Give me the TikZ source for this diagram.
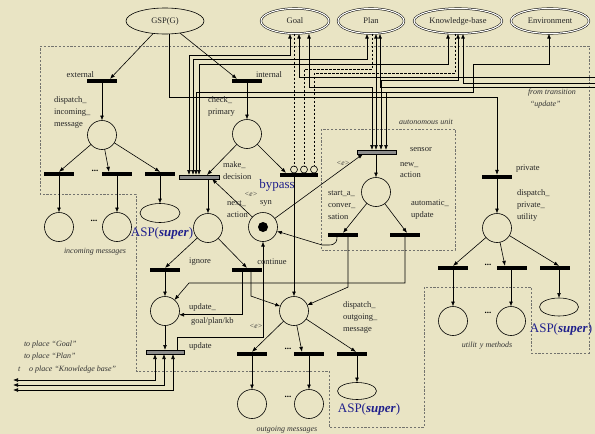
\documentclass[tikz,border=0pt]{standalone}
\usepackage{fontspec}
\setmainfont{Liberation Serif}
\usetikzlibrary{arrows.meta,shapes.geometric}
\definecolor{bgc}{RGB}{233,228,196}
\definecolor{aspblue}{RGB}{32,32,140}
\definecolor{dashgray}{RGB}{115,115,110}
\definecolor{bargray}{RGB}{140,140,140}
\begin{document}
\begin{tikzpicture}[x=1pt,y=-1pt,
  every node/.style={inner sep=0pt, outer sep=0pt},
  tb/.style={rectangle, fill=black, minimum width=30pt, minimum height=4.2pt},
  gb/.style={rectangle, draw=black, line width=0.5pt, fill=bargray, minimum width=38pt, minimum height=4pt},
  pl/.style={circle, draw, line width=0.6pt, minimum size=29pt},
  asel/.style={ellipse, draw, line width=0.6pt, minimum width=39pt, minimum height=18pt},
  topel/.style={ellipse, draw, line width=0.6pt, minimum height=26pt},
  dtop/.style={ellipse, draw, line width=0.5pt, double, double distance=1.1pt, minimum height=25pt},
  bc/.style={circle, draw, line width=0.6pt, minimum size=7pt},
  lab/.style={font=\fontsize{8.5}{11.8}\selectfont, align=left, text=black!85},
  ilab/.style={font=\fontsize{8}{11.5}\selectfont\itshape, align=left, text=black!80},
  asp/.style={font=\fontsize{13}{15}\selectfont, text=aspblue},
  dotl/.style={font=\bfseries\fontsize{9}{9}\selectfont},
  bnd/.style={draw=dashgray, line width=0.45pt, dash pattern=on 2.2pt off 1.6pt},
  wire/.style={line width=0.6pt},
  arw/.style={wire, -{Latex[length=5pt,width=3.8pt]}},
  darw/.style={wire, {Latex[length=5pt,width=3.8pt]}-{Latex[length=5pt,width=3.8pt]}},
  dwire/.style={line width=0.6pt, dash pattern=on 2.5pt off 1.5pt},
]
\fill[bgc] (0,0) rectangle (595,434);
\useasboundingbox (0,0) rectangle (595,434);

% boundaries
\draw[bnd] (40,46) -- (589,46) -- (589,353) -- (531,353) -- (531,287) -- (424,287) -- (424,427) -- (329,427) -- (329,371) -- (136,371) -- (136,194) -- (40,194) -- cycle;
\draw[bnd] (321,129) rectangle (455,250);

% top places
\node[topel, minimum width=78pt] (gsp) at (165,21) {};
\node[lab] at (gsp) {GSP(G)};
\node[dtop, minimum width=68pt] (goal) at (295,21) {};
\node[lab] at (goal) {Goal};
\node[dtop, minimum width=66pt] (plan) at (371,21) {};
\node[lab] at (plan) {Plan};
\node[dtop, minimum width=88pt] (kb) at (458,21) {};
\node[lab] at (kb) {Knowledge-base};
\node[dtop, minimum width=78pt] (env) at (550,21) {};
\node[lab] at (env) {Environment};

% transitions
\node[tb] (ext) at (102,81) {};
\node[tb] (int) at (247,81) {};
\node[tb] (i1) at (59,174) {};
\node[tb] (i2) at (117,174) {};
\node[tb] (i3) at (160,174) {};
\node[gb, minimum width=40pt] (md) at (199,177) {};
\node[tb, minimum width=38pt] (byp) at (299,175) {};
\node[gb, minimum width=39pt] (sens) at (377,152) {};
\node[tb] (sac) at (343,235) {};
\node[tb] (aut) at (405,235) {};
\node[tb] (priv) at (497,177) {};
\node[tb] (u1) at (453,268) {};
\node[tb] (u2) at (512,268) {};
\node[tb] (u3) at (555,268) {};
\node[tb] (ign) at (165,270) {};
\node[tb] (cont) at (247,270) {};
\node[tb] (o1) at (252,354) {};
\node[tb] (o2) at (309,354) {};
\node[tb] (o3) at (352,354) {};
\node[gb] (upd) at (165,352) {};

% places
\node[pl] (pin) at (102,135) {};
\node[pl] (in1) at (59,227) {};
\node[pl] (in2) at (117,227) {};
\node[asel, minimum width=40pt, minimum height=19pt] (inA) at (160,213) {};
\node[pl] (pcp) at (247,134) {};
\node[pl] (na) at (208,228) {};
\node[pl] (syn) at (263,227) {};
\node[circle, fill=black, minimum size=10pt] (tok) at (syn) {};
\node[pl] (nact) at (376,192) {};
\node[pl] (pdu) at (497,228) {};
\node[pl] (ut1) at (453,321) {};
\node[pl] (ut2) at (511,321) {};
\node[asel] (utA) at (559,307) {};
\node[pl] (pgpk) at (165,311) {};
\node[pl] (pout) at (294,311) {};
\node[pl] (out1) at (252,404) {};
\node[pl] (out2) at (309,404) {};
\node[asel, minimum height=17pt] (outA) at (357,391) {};
\node[bc] (bc1) at (294,169.5) {};
\node[bc] (bc2) at (304,169.5) {};
\node[bc] (bc3) at (314,169.5) {};

% dashed read arcs to bypass
\coordinate (dP) at (304,69);
\coordinate (dK) at (314,73);
\draw[dwire] (goal.south -| bc1) -- (bc1.north);
\draw[dwire] ([xshift=1pt]plan.south) |- (dP) -- (bc2.north);
\draw[dwire] ([xshift=-3pt]kb.south) |- (dK) -- (bc3.north);

% make_decision arcs
\coordinate (mG) at (290,55);
\coordinate (mP) at (367,59);
\coordinate (mK) at (448,64);
\coordinate (mE) at (196,92);
\coordinate (sE) at (386,92);
\draw[darw] ([xshift=-10pt]md.north) |- (mG) -- (mG |- goal.south);
\draw[darw] ([xshift=-6pt]md.north) |- (mP) -- (mP |- plan.south);
\draw[darw] (md.north) |- (mK) -- (mK |- kb.south);
\draw[arw] (sE) -- (mE) -- ([xshift=-3pt]md.north);

% sensor arcs
\coordinate (sG) at (309,87);
\coordinate (sK) at (458,80);
\coordinate (e1) at (473,92);
\coordinate (e2) at (549,64);
\draw[darw] ([xshift=-5pt]sens.north) |- (sG) -- (sG |- goal.south);
\draw[darw] ([xshift=-1pt]sens.north) -- ([xshift=-1pt]sens.north |- plan.south);
\draw[darw] ([xshift=4pt]sens.north) |- (sK) -- (sK |- kb.south);
\draw[darw] ([xshift=9pt]sens.north) |- (e1) |- (e2) -- (e2 |- env.south);

% from transition update
\coordinate (rG) at (595,77);
\coordinate (rK) at (595,83);
\coordinate (rP) at (595,87);
\draw[arw] (rG) -| ([xshift=4pt]goal.south);
\draw[arw] (rP) -| ([xshift=9pt]plan.south);
\draw[arw] (rK) -| ([xshift=5pt]kb.south);

% GSP arcs
\coordinate (gp) at (497,97);
\draw[arw] (gsp) -- ([xshift=8pt]ext.north);
\draw[arw] (gsp) -- ([xshift=-10pt]int.north);
\draw[arw] ([xshift=4pt]gsp.south) |- (gp) -- (priv.north);

% incoming
\draw[arw] (ext.south) -- (pin.north);
\draw[arw] (pin) -- (i1.north);
\draw[arw] (pin) -- ([xshift=-8pt]i2.north);
\draw[arw] (pin) -- (i3.north);
\draw[arw] (i1.south) -- (in1.north);
\draw[arw] (i2.south) -- (in2.north);
\draw[arw] (i3.south) -- (inA.north);

% internal
\draw[arw] (int.south) -- (pcp.north);
\draw[arw] (pcp) -- ([xshift=8pt]md.north);
\draw[arw] (pcp) -- ([xshift=-13pt]byp.north);
\draw[arw] (md.south -| na) -- (na.north);
\draw[arw] (syn) -- ([xshift=13pt]md.south);
\draw[arw] (syn) -- ([xshift=-14pt]sens.south);
\draw[arw] (na) -- (ign.north);
\draw[arw] (na) -- (cont.north);
\draw[arw] (sens.south -| nact) -- (nact.north);
\draw[arw] (nact) -- (sac.north);
\draw[arw] (nact) -- ([xshift=2pt]aut.north);
\coordinate (c1) at (322,245);
\draw[arw] ([xshift=-6pt]sac.south) .. controls +(0,9) and +(9,0) .. (c1) -- (syn);
\draw[arw] ([xshift=5pt]sac.south) -- ++(0,50) -- (pout);
\coordinate (c2) at (189,283);
\draw[arw] (aut.south) |- (c2) -- (pgpk);
\draw[arw] ([xshift=-5pt]cont.south) |- (pgpk.-15);
\draw[arw] ([xshift=4pt]cont.south) -- ++(0,24) -- (pout);
\draw[arw] (byp.south -| pout) -- (pout.north);
\draw[arw] (ign.south) -- (pgpk.north);
\draw[arw] (pgpk.south) -- (upd.north);
\draw[arw] ([xshift=12pt]upd.north) -- ++(0,-13) -| (syn.south);
\coordinate (tG) at (13,380);
\coordinate (tP) at (13,385);
\coordinate (tK) at (13,390);
\draw[darw] (tG) -| ([xshift=-10pt]upd.south);
\draw[darw] (tP) -| ([xshift=-1pt]upd.south);
\draw[darw] (tK) -| ([xshift=8pt]upd.south);

% outgoing
\draw[arw] (pout) -- (o1.north);
\draw[arw] (pout) -- ([xshift=-7pt]o2.north);
\draw[arw] (pout) -- ([xshift=4pt]o3.north);
\draw[arw] (o1.south) -- (out1.north);
\draw[arw] (o2.south) -- (out2.north);
\draw[arw] (o3.south -| outA) -- (outA.north);

% private
\draw[arw] (priv.south) -- (pdu.north);
\draw[arw] (pdu) -- (u1.north);
\draw[arw] (pdu) -- ([xshift=-7pt]u2.north);
\draw[arw] (pdu) -- ([xshift=4pt]u3.north);
\draw[arw] (u1.south) -- (ut1.north);
\draw[arw] (u2.south -| ut2) -- (ut2.north);
\draw[arw] (u3.south -| utA) -- (utA.north);

% dots
\node[dotl] (d1) at (95,171) {...};
\node[dotl] (d2) at (94,221) {...};
\node[dotl] (d3) at (488,265) {...};
\node[dotl] (d4) at (488,313) {...};
\node[dotl] (d5) at (288,349) {...};
\node[dotl] (d6) at (288,397) {...};

% labels
\node[lab, anchor=east] (lext) at (94,75) {external};
\node[lab, anchor=west] (lint) at (256,75) {internal};
\node[lab, anchor=north west] (lpin) at (54,97) {dispatch\_\\incoming\_\\message};
\node[lab, anchor=north west] (lpcp) at (208,97) {check\_\\primary};
\node[lab, anchor=north west] (lmd) at (223,162) {make\_\\decision};
\node[lab, anchor=north west] (lna) at (227,201) {next\_\\action};
\node[lab] (lsyn) at (266,203) {syn};
\node[ilab, font=\fontsize{7.5}{9}\selectfont\itshape] (le1) at (251,194) {<e>};
\node[ilab, font=\fontsize{7.5}{9}\selectfont\itshape] (le2) at (343,163) {<e>};
\node[ilab, font=\fontsize{7.5}{9}\selectfont\itshape] (le3) at (256,326) {<e>};
\node[lab, anchor=north west] (lnact) at (400,162) {new\_\\action};
\node[lab] (lsens) at (421,150) {sensor};
\node[lab, anchor=north west] (lsac) at (328,191) {start\_a\_\\conver\_\\sation};
\node[lab, anchor=north west] (laut) at (411,200) {automatic\_\\update};
\node[lab, anchor=west] (lpriv) at (516,169) {private};
\node[lab, anchor=north west] (lpdu) at (517,190) {dispatch\_\\private\_\\utility};
\node[lab] (lign) at (200,262) {ignore};
\node[lab] (lcont) at (272,262) {continue};
\node[lab, anchor=west] (lgpk1) at (189,307) {update\_};
\node[lab, anchor=west] (lgpk2) at (191,321) {goal/plan/kb};
\node[lab, anchor=north west] (lpout) at (343,302) {dispatch\_\\outgoing\_\\message};
\node[lab, anchor=west] (lupd) at (189,346) {update};
\node[ilab, anchor=west] (ltg) at (24,345) {to place ``Goal''};
\node[ilab, anchor=west] (ltp) at (24,357) {to place ``Plan''};
\node[ilab, anchor=west] (ltk) at (18,370) {t\hspace*{9pt}o place ``Knowledge base''};
\node[ilab] (linc) at (95,252) {incoming messages};
\node[ilab] (lout) at (287,430) {outgoing messages};
\node[ilab] (lutil) at (487,346) {utilit\hspace*{3pt}y methods};
\node[ilab] (lauto) at (426,122) {autonomous unit};
\node[ilab, anchor=north west] (lfrom) at (528,89) {from transition\\\hspace*{2pt}``update''};
\node[asp] (lbyp) at (277,185) {bypass};
\node[asp] (asp1) at (162,233) {ASP(\textbf{\textit{super}})};
\node[asp] (asp2) at (561,329) {ASP(\textbf{\textit{super}})};
\node[asp] (asp3) at (369,409) {ASP(\textbf{\textit{super}})};
\end{tikzpicture}
\end{document}
